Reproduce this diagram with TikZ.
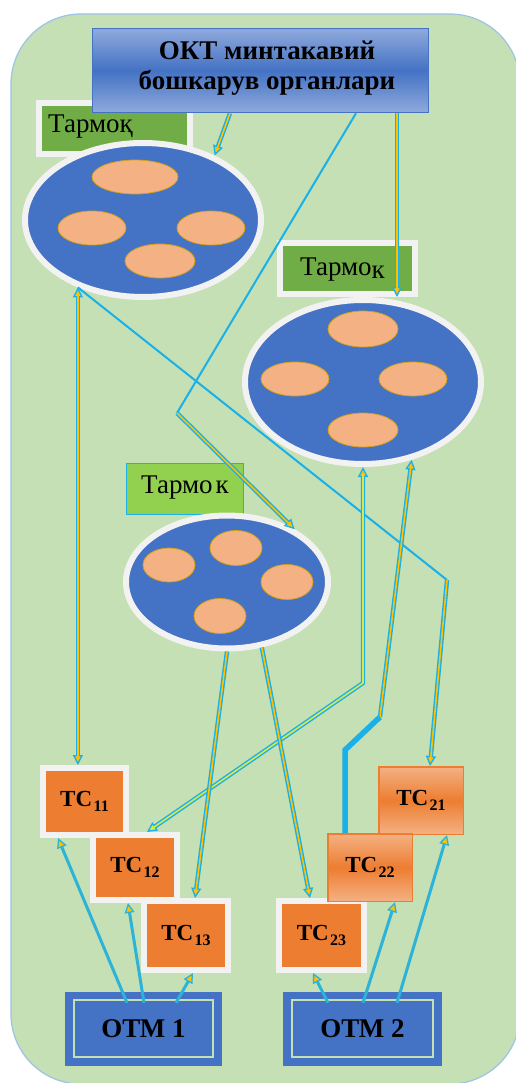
\documentclass[tikz,border=0pt]{standalone}
\usepackage{fontspec}
\setmainfont{Liberation Serif}
\usetikzlibrary{shapes.geometric,arrows.meta,calc}
\definecolor{frameg}{HTML}{C5E0B4}
\definecolor{framel}{HTML}{9DC3E6}
\definecolor{nblue}{HTML}{4472C4}
\definecolor{lblue}{HTML}{8FAADC}
\definecolor{ringc}{HTML}{F2F2F2}
\definecolor{peach}{HTML}{F4B183}
\definecolor{blobline}{HTML}{D4A017}
\definecolor{lgreen}{HTML}{70AD47}
\definecolor{ygreen}{HTML}{92D050}
\definecolor{tcor}{HTML}{ED7D31}
\definecolor{cy}{HTML}{1AB0E8}
\definecolor{cytwo}{HTML}{2DB3D7}
\definecolor{gold}{HTML}{FFC000}
\definecolor{lime}{HTML}{D6E84E}
\newcommand\tcl[1]{ТС\kern1.5pt\raisebox{-5pt}{\fontsize{16}{16}\selectfont #1}}
\tikzset{
  tipg/.tip={Triangle[length=10pt,width=10pt,fill=gold,line width=1.3pt]},
  tipy/.tip={Triangle[length=10pt,width=10pt,fill=lime,line width=1.3pt]},
  net/.style={ellipse, fill=nblue, draw=ringc, line width=6pt, inner sep=0pt},
  blob/.style={ellipse, fill=peach, draw=blobline, line width=0.8pt, inner sep=0pt},
  labbox/.style={rectangle, fill=lgreen, draw=ringc, line width=6pt, inner sep=0pt},
  lbl/.style={anchor=base west, inner sep=0pt, font=\fontsize{27}{30}\selectfont},
  tcbox/.style={rectangle, fill=tcor, draw=ringc, line width=6pt, inner sep=0pt, font=\fontsize{23}{25}\selectfont\bfseries},
  tcgrad/.style={rectangle, draw=tcor, line width=1.5pt, top color=peach, bottom color=peach, middle color=tcor, inner sep=0pt, font=\fontsize{23}{25}\selectfont\bfseries},
  otmbox/.style={rectangle, fill=nblue, inner sep=0pt, font=\fontsize{27}{29}\selectfont\bfseries},
  dbl/.style={draw=cy, line width=4.4pt, -tipg, postaction={draw=gold, line width=1.6pt, -, shorten >=8pt}},
  dblboth/.style={draw=cy, line width=4.4pt, tipg-tipg, postaction={draw=gold, line width=1.6pt, -, shorten >=8pt, shorten <=8pt}},
  dblgreen/.style={draw=cy, line width=4.4pt, tipg-tipy, postaction={draw=lime, line width=1.6pt, -, shorten >=8pt, shorten <=8pt}},
  up/.style={draw=cytwo, line width=3pt, -{Triangle[length=10pt,width=10pt,fill=gold,line width=1.3pt]}},
  thinline/.style={draw=cy, line width=2pt},
  fatline/.style={draw=cy, line width=5.5pt},
}
\begin{document}
\begin{tikzpicture}[x=1pt,y=-1pt]
\useasboundingbox (0,0) rectangle (515,1083);
\fill[white] (0,0) rectangle (515,1083);
% outer frame
\draw[fill=frameg, draw=framel, line width=1.2pt, rounded corners=70pt] (11,14) rectangle (520,1084);

% network 1
\node[labbox, minimum width=151pt, minimum height=51pt] (lab1) at (114.5,128.5) {};
\node[lbl] (lab1t) at (48,133) {Тармоқ};
\node[net, minimum width=236pt, minimum height=154pt] (e1) at (143,220) {};
\node[blob, minimum width=86pt, minimum height=34pt] (e1a) at (135,177) {};
\node[blob, minimum width=68pt, minimum height=34pt] (e1b) at (92,228) {};
\node[blob, minimum width=68pt, minimum height=34pt] (e1c) at (211,228) {};
\node[blob, minimum width=70pt, minimum height=34pt] (e1d) at (160,261) {};

% network 2
\node[labbox, minimum width=135pt, minimum height=51pt] (lab2) at (347.5,268.5) {};
\node[lbl] (lab2t) at (300,275) {Тармо\raisebox{-3pt}{к}};
\node[net, minimum width=236pt, minimum height=164pt] (e2) at (363,382) {};
\node[blob, minimum width=70pt, minimum height=36pt] (e2a) at (363,329) {};
\node[blob, minimum width=68pt, minimum height=34pt] (e2b) at (295,379) {};
\node[blob, minimum width=68pt, minimum height=34pt] (e2c) at (413,379) {};
\node[blob, minimum width=70pt, minimum height=34pt] (e2d) at (363,430) {};

% network 3
\node[rectangle, fill=ygreen, draw=cy, line width=1.5pt, minimum width=117pt, minimum height=51pt, inner sep=0pt] (lab3) at (185,489) {};
\node[lbl] (lab3t) at (141,493) {Тармо\kern3pt к};
\node[net, minimum width=202pt, minimum height=133pt] (e3) at (227,582) {};
\node[blob, minimum width=52pt, minimum height=34pt] (e3a) at (169,565) {};
\node[blob, minimum width=52pt, minimum height=35pt] (e3b) at (236,548) {};
\node[blob, minimum width=52pt, minimum height=35pt] (e3c) at (287,582) {};
\node[blob, minimum width=52pt, minimum height=35pt] (e3d) at (220,616) {};

% top box
\node[rectangle, draw=nblue, line width=1.5pt, top color=lblue, bottom color=lblue, middle color=nblue, minimum width=336pt, minimum height=84pt, inner sep=0pt] (top) at (260.5,70.5) {};
\node[align=center, inner sep=0pt, font=\fontsize{27}{30}\selectfont\bfseries] (toptext) at (267,68) {ОКТ минтакавий\\бошкарув органлари};

% TC boxes
\node[tcbox, minimum width=83pt, minimum height=67pt] (tc11) at (84.5,801.5) {\tcl{11}};
\node[tcbox, minimum width=84pt, minimum height=65pt] (tc12) at (135,867.5) {\tcl{12}};
\node[tcbox, minimum width=84pt, minimum height=69pt] (tc13) at (186,935.5) {\tcl{13}};
\node[tcbox, minimum width=85pt, minimum height=69pt] (tc23) at (321.5,935.5) {\tcl{23}};
\node[tcgrad, minimum width=84.5pt, minimum height=67.5pt] (tc21) at (421,800.5) {\tcl{21}};
\node[tcgrad, minimum width=84.5pt, minimum height=67.5pt] (tc22) at (370,867.5) {\tcl{22}};

% OTM boxes
\node[otmbox, minimum width=157pt, minimum height=74pt] (otm1) at (143.5,1029) {ОТМ 1};
\node[otmbox, minimum width=159pt, minimum height=74pt] (otm2) at (362.5,1029) {ОТМ 2};
\draw[frameg, line width=1.5pt] ([shift={(9pt,-8pt)}]otm1.north west) rectangle ([shift={(-9pt,9pt)}]otm1.south east);
\draw[frameg, line width=1.5pt] ([shift={(9pt,-8pt)}]otm2.north west) rectangle ([shift={(-9pt,9pt)}]otm2.south east);

% bend points
\coordinate (b1) at (177,413);
\coordinate (b2) at (447,580);
\coordinate (b3) at (363,683);
\coordinate (b4) at (380,717);
\coordinate (b5) at (345,750);

% connectors from the top box
\draw[dbl] ([xshift=-30.5pt]top.south) -- (e1.42);
\draw[dbl] ([xshift=136.5pt]top.south) -- ([xshift=136.5pt]top.south |- lab2.south);
\draw[thinline] ([xshift=95.5pt]top.south) -- (b1);
\draw[dbl] (b1) -- (e3.38);

% network 1 links
\draw[dblboth] (e1.-134) -- (e1.-134 |- tc11.north);
\draw[thinline] (e1.-134) -- (b2);
\draw[dbl] (b2) -- ([xshift=9pt]tc21.north);

% network 2 links
\draw[dblgreen] (e2.south) -- (b3) -- ([xshift=12pt]tc12.north);
\draw[dbl] (b4) -- (e2.-58);
\draw[fatline] (b4) -- (b5) -- (b5 |- tc22.north);

% network 3 links
\draw[dbl] (e3.south) -- ([xshift=9pt]tc13.north);
\draw[dbl] (e3.-62) -- ([xshift=-11.5pt]tc23.north);

% OTM links
\draw[up] ([shift={(-16.5pt,-11pt)}]otm1.north) -- ([xshift=-26.5pt]tc11.south);
\draw[up] ([shift={(0.5pt,-11pt)}]otm1.north) -- ([xshift=-7pt]tc12.south);
\draw[up] ([shift={(32.5pt,-11pt)}]otm1.north) -- ([xshift=7pt]tc13.south);
\draw[up] ([shift={(-34.5pt,-11pt)}]otm2.north) -- ([xshift=-8.5pt]tc23.south);
\draw[up] ([shift={(0.5pt,-11pt)}]otm2.north) -- ([xshift=25pt]tc22.south);
\draw[up] ([shift={(34.5pt,-11pt)}]otm2.north) -- ([xshift=26pt]tc21.south);
\end{tikzpicture}
\end{document}
